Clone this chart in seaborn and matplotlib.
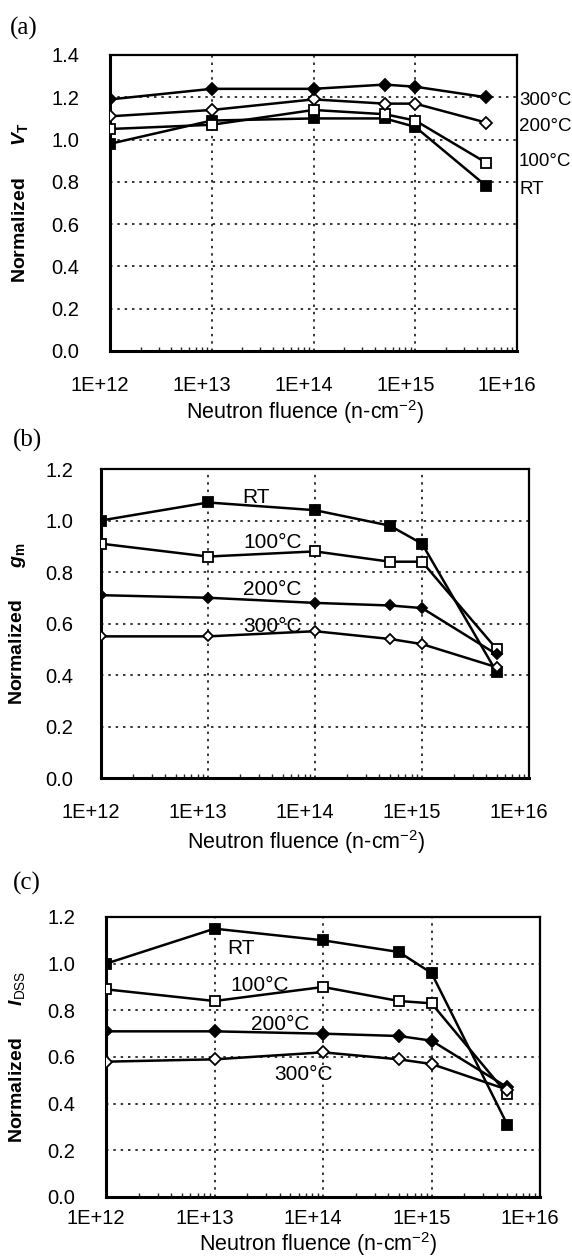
import numpy as np
import pandas as pd
import matplotlib
matplotlib.use("Agg")
import matplotlib.pyplot as plt
import matplotlib.transforms as mtransforms
from matplotlib.ticker import LogLocator, NullFormatter, FixedLocator, FixedFormatter
import seaborn as sns

# ---------------- data ----------------
fluence = [1e12, 1e13, 1e14, 5e14, 1e15, 5e15]
x_ticks = [1e12, 1e13, 1e14, 1e15, 1e16]
x_tick_labels = ["1E+12", "1E+13", "1E+14", "1E+15", "1E+16"]
series_names = ["RT", "100°C", "200°C", "300°C"]

vt_rt = [0.98, 1.09, 1.10, 1.10, 1.06, 0.78]
vt_100 = [1.05, 1.07, 1.14, 1.12, 1.09, 0.89]
vt_200 = [1.11, 1.14, 1.19, 1.17, 1.17, 1.08]
vt_300 = [1.19, 1.24, 1.24, 1.26, 1.25, 1.20]

gm_rt = [1.00, 1.07, 1.04, 0.98, 0.91, 0.41]
gm_100 = [0.91, 0.86, 0.88, 0.84, 0.84, 0.50]
gm_200 = [0.71, 0.70, 0.68, 0.67, 0.66, 0.48]
gm_300 = [0.55, 0.55, 0.57, 0.54, 0.52, 0.43]

idss_rt = [1.00, 1.15, 1.10, 1.05, 0.96, 0.31]
idss_100 = [0.89, 0.84, 0.90, 0.84, 0.83, 0.44]
idss_200 = [0.71, 0.71, 0.70, 0.69, 0.67, 0.47]
idss_300 = [0.58, 0.59, 0.62, 0.59, 0.57, 0.46]

yticks_a = [0.0, 0.2, 0.4, 0.6, 0.8, 1.0, 1.2, 1.4]
yticks_bc = [0.0, 0.2, 0.4, 0.6, 0.8, 1.0, 1.2]

# ---------------- style ----------------
sns.set_theme(style="white")
plt.rcParams["font.family"] = ["Liberation Sans", "DejaVu Sans"]
plt.rcParams["mathtext.fontset"] = "custom"
plt.rcParams["mathtext.it"] = "Liberation Sans:italic:bold"
plt.rcParams["mathtext.bf"] = "Liberation Sans:bold"
plt.rcParams["mathtext.rm"] = "Liberation Sans"

TICK_FS = 14.5
XLBL_FS = 15.5
YLBL_FS = 14
ANN_FS = 15

fig = plt.figure(figsize=(5.72, 12.59), dpi=100)

W, H = 572.0, 1259.0


def make_axes(left, right, top, bottom):
    return fig.add_axes([left / W, 1 - bottom / H, (right - left) / W, (bottom - top) / H])


ax_a = make_axes(110, 517, 55, 351)
ax_b = make_axes(101, 529, 469, 778)
ax_c = make_axes(106, 540, 917, 1197)

# marker styles: (marker, filled)
styles_a = {"RT": ("s", True), "100°C": ("s", False), "200°C": ("D", False), "300°C": ("D", True)}
styles_bc = {"RT": ("s", True), "100°C": ("s", False), "200°C": ("D", True), "300°C": ("D", False)}


def draw(ax, data, styles, yticks, ymax, xpad, ypad, msq, mdi):
    ax.set_xscale("log")
    for name, vals in zip(series_names, data):
        mk, filled = styles[name]
        ms = msq if mk == "s" else mdi
        sns.lineplot(x=fluence, y=vals, ax=ax, color="black", linewidth=1.8,
                     marker=mk, markersize=ms,
                     markerfacecolor="black" if filled else "white",
                     markeredgecolor="black", markeredgewidth=1.3,
                     sort=False, zorder=3)
    ax.set_xlim(1e12, 1e16)
    ax.set_ylim(0, ymax)
    ax.xaxis.set_major_locator(FixedLocator(x_ticks))
    ax.xaxis.set_major_formatter(FixedFormatter(x_tick_labels))
    ax.xaxis.set_minor_locator(LogLocator(base=10, subs=np.arange(2, 10), numticks=50))
    ax.xaxis.set_minor_formatter(NullFormatter())
    ax.set_yticks(yticks)
    ax.set_yticklabels([f"{v:.1f}" for v in yticks])
    ax.grid(True, which="major", color="black", linestyle=(0, (1.6, 3.2)), linewidth=1.1)
    for s in ax.spines.values():
        s.set_color("black")
        s.set_linewidth(1.6)
    ax.spines["left"].set_linewidth(2.2)
    ax.spines["bottom"].set_linewidth(2.2)
    ax.tick_params(axis="both", which="major", direction="out", length=3, width=1.5,
                   colors="black", labelsize=TICK_FS)
    ax.tick_params(axis="x", which="major", pad=xpad)
    ax.tick_params(axis="y", which="major", pad=ypad)
    ax.tick_params(axis="x", which="minor", direction="in", length=3, width=1.0, bottom=True)
    off = mtransforms.ScaledTranslation(-0.10, 0, fig.dpi_scale_trans)
    for lbl in ax.get_xticklabels():
        lbl.set_transform(lbl.get_transform() + off)
    ax.set_xlabel("Neutron fluence (n-cm$^{-2}$)", fontsize=XLBL_FS, color="black")


draw(ax_a, [vt_rt, vt_100, vt_200, vt_300], styles_a, yticks_a, 1.4, 15, 19, 7.8, 6.6)
draw(ax_b, [gm_rt, gm_100, gm_200, gm_300], styles_bc, yticks_bc, 1.2, 15, 17, 7.3, 5.4)
draw(ax_c, [idss_rt, idss_100, idss_200, idss_300], styles_bc, yticks_bc, 1.2, 6, 19, 7.8, 6.0)

ax_a.set_ylabel("Normalized      $V_\\mathbf{T}$", fontsize=YLBL_FS, fontweight="bold", color="black")
ax_b.set_ylabel("Normalized      $g_\\mathbf{m}$", fontsize=YLBL_FS, fontweight="bold", color="black")
ax_c.set_ylabel("Normalized      $I_\\mathrm{DSS}$", fontsize=YLBL_FS, fontweight="bold", color="black")
ax_a.yaxis.set_label_coords(-0.197, 0.5)
ax_b.yaxis.set_label_coords(-0.171, 0.5)
ax_c.yaxis.set_label_coords(-0.182, 0.5)
ax_a.xaxis.set_label_coords(0.48, -0.16)
ax_b.xaxis.set_label_coords(0.48, -0.163)
ax_c.xaxis.set_label_coords(0.49, -0.118)

# series annotations
for name, yv in zip(["300°C", "200°C", "100°C", "RT"], [1.187, 1.064, 0.894, 0.762]):
    ax_a.text(1.005, yv, name, transform=ax_a.get_yaxis_transform(), ha="left", va="center",
              fontsize=13.5, color="black", clip_on=False)

for name, xe, yv in zip(["RT", "100°C", "200°C", "300°C"], [13.45, 13.60, 13.60, 13.60],
                        [1.09, 0.915, 0.733, 0.59]):
    ax_b.text(10 ** xe, yv, name, ha="center", va="center", fontsize=ANN_FS, color="black", zorder=2)

for name, xe, yv in zip(["RT", "100°C", "200°C", "300°C"], [13.24, 13.42, 13.61, 13.82],
                        [1.063, 0.905, 0.74, 0.525]):
    ax_c.text(10 ** xe, yv, name, ha="center", va="center", fontsize=ANN_FS, color="black", zorder=2)

# panel letters
for lab, (px, py) in zip(["(a)", "(b)", "(c)"], [(24, 28), (27, 440), (27, 883)]):
    fig.text(px / W, 1 - py / H, lab, ha="center", va="center", fontsize=18,
             family="Liberation Serif", color="black")

fig.savefig("out.png", dpi=100)
